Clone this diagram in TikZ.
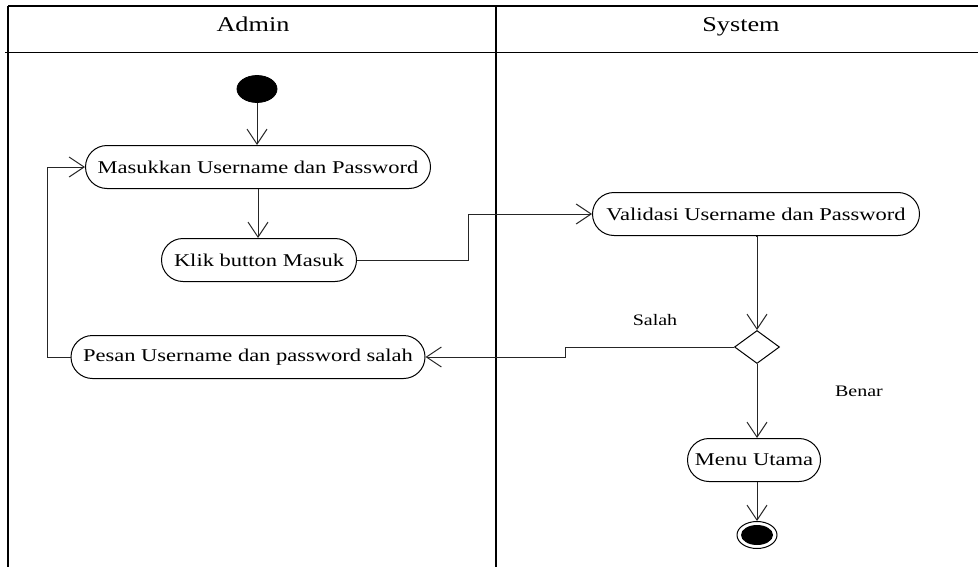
\documentclass[tikz,border=0pt]{standalone}
\usepackage{fontspec}
\setmainfont[FakeStretch=1.25]{Liberation Serif}
\usetikzlibrary{shapes.misc,shapes.geometric,arrows.meta}
\begin{document}
\begin{tikzpicture}[x=0.5pt,y=-0.5pt,
  act/.style={rounded rectangle,draw=black,line width=0.5pt,minimum height=21.5pt,inner sep=0pt,font=\fontsize{9}{11}\selectfont},
  lbl/.style={font=\fontsize{8}{10}\selectfont,inner sep=0pt},
  hdr/.style={font=\fontsize{10.5}{12}\selectfont,inner sep=0pt,anchor=base},
  arr/.style={draw=black!85,line width=0.5pt,-{Straight Barb[length=7.5pt,width=10pt,line width=0.5pt]}},
  ln/.style={draw=black!85,line width=0.5pt},
  lane/.style={draw=black,line width=1pt}]
\useasboundingbox (0,0) rectangle (978,567);
% swimlanes
\draw[lane] (8,6) -- (978,6);
\draw[ln,draw=black] (5,53) -- (978,53);
\draw[lane] (8,6) -- (8,567);
\draw[lane] (496,6) -- (496,567);
\node[hdr] (hadmin) at (253,32) {Admin};
\node[hdr] (hsys) at (741,32) {System};
% nodes
\node[ellipse,fill=black,draw=black,minimum width=20pt,minimum height=13.5pt,inner sep=0pt] (start) at (257,89) {};
\node[act,minimum width=172.5pt] (masuk) at (258,167) {Masukkan Username dan Password};
\node[act,minimum width=97.5pt] (klik) at (259,260) {Klik button Masuk};
\node[act,minimum width=163.5pt] (valid) at (756,214) {Validasi Username dan Password};
\node[diamond,draw=black,line width=0.5pt,minimum width=22.5pt,minimum height=16.5pt,inner sep=0pt] (dec) at (757,347) {};
\node[act,minimum width=177pt] (pesan) at (248,357) {Pesan Username dan password salah};
\node[act,minimum width=66.5pt] (menu) at (754,460) {Menu Utama};
\node[ellipse,draw=black,line width=0.5pt,minimum width=20pt,minimum height=13.5pt,inner sep=0pt] (end) at (757,535) {};
\node[ellipse,fill=black,minimum width=16pt,minimum height=10pt,inner sep=0pt] (endin) at (end.center) {};
\node[lbl] (salah) at (655,320) {Salah};
\node[lbl] (benar) at (859,391) {Benar};
% connectors
\draw[arr] (start.south) -- (start.south |- masuk.north);
\draw[arr] (masuk.south) -- (masuk.south |- klik.north);
\draw[arr] (klik.east) -| (468,214) -- (valid.west);
\draw[arr] (valid.south) -- (valid.south -| dec.north) -- (dec.north);
\draw[arr] (dec.west) -| (565,357) -- (pesan.east);
\draw[arr] (pesan.west) -| (47,167) -- (masuk.west);
\draw[arr] (dec.south) -- (dec.south |- menu.north);
\draw[arr] (menu.south -| end.north) -- (end.north);
\end{tikzpicture}
\end{document}
